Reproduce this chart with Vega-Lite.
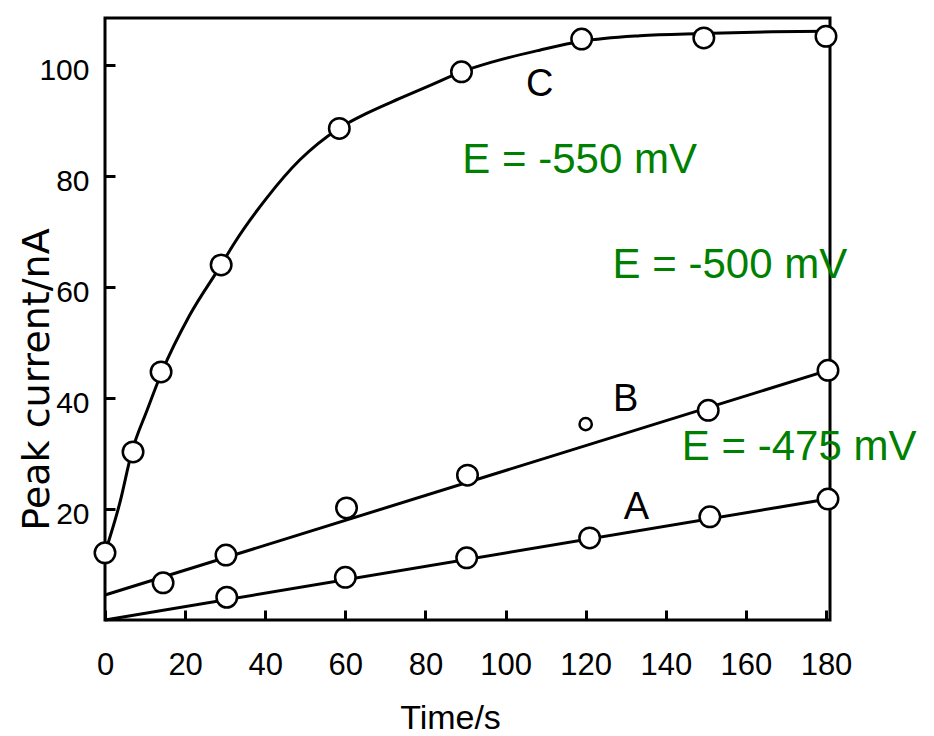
{
  "$schema": "https://vega.github.io/schema/vega-lite/v6.json",
  "autosize": {"type": "none"},
  "width": 725,
  "height": 602,
  "padding": {"left": 105, "top": 18, "right": 104, "bottom": 116},
  "background": "white",
  "config": {
    "view": {"stroke": "black", "strokeWidth": 3},
    "axis": {
      "grid": false,
      "labelColor": "black",
      "titleColor": "black",
      "labelFlush": false,
      "labelOverlap": false,
      "labelFont": "Liberation Sans Narrow, Arial Narrow, Liberation Sans",
      "titleFont": "Liberation Sans Narrow, Arial Narrow, Liberation Sans",
      "titleFontWeight": "normal"
    }
  },
  "datasets": {
    "points": [
      {"series": "C", "t": 0, "current": 12.1, "fit": true},
      {"series": "C", "t": 7, "current": 30.3, "fit": true},
      {"series": "C", "t": 14, "current": 44.7, "fit": true},
      {"series": "C", "t": 29, "current": 64.0, "fit": true},
      {"series": "C", "t": 58.5, "current": 88.6, "fit": true},
      {"series": "C", "t": 89, "current": 98.8, "fit": true},
      {"series": "C", "t": 119, "current": 104.7, "fit": true},
      {"series": "C", "t": 149.5, "current": 104.9, "fit": true},
      {"series": "C", "t": 180, "current": 105.2, "fit": true},
      {"series": "B", "t": 14.5, "current": 6.7, "fit": true},
      {"series": "B", "t": 30.2, "current": 11.7, "fit": true},
      {"series": "B", "t": 60.3, "current": 20.2, "fit": true},
      {"series": "B", "t": 90.5, "current": 26.1, "fit": true},
      {"series": "B", "t": 120, "current": 35.3, "fit": false},
      {"series": "B", "t": 150.6, "current": 37.8, "fit": true},
      {"series": "B", "t": 180.5, "current": 45.0, "fit": true},
      {"series": "A", "t": 30.4, "current": 4.1, "fit": true},
      {"series": "A", "t": 60, "current": 7.7, "fit": true},
      {"series": "A", "t": 90.3, "current": 11.2, "fit": true},
      {"series": "A", "t": 121, "current": 14.8, "fit": true},
      {"series": "A", "t": 151, "current": 18.6, "fit": true},
      {"series": "A", "t": 180.5, "current": 21.8, "fit": true}
    ],
    "curveC": [
      {"t": 0, "current": 12.1},
      {"t": 3.7, "current": 21.1},
      {"t": 6.7, "current": 30.3},
      {"t": 10.5, "current": 37.8},
      {"t": 14.2, "current": 44.7},
      {"t": 21.2, "current": 55.0},
      {"t": 29, "current": 64.0},
      {"t": 32, "current": 67.6},
      {"t": 40.3, "current": 76.0},
      {"t": 48.6, "current": 82.9},
      {"t": 58.4, "current": 88.6},
      {"t": 65.3, "current": 91.3},
      {"t": 73.6, "current": 94.0},
      {"t": 81.9, "current": 96.6},
      {"t": 89, "current": 98.8},
      {"t": 96.8, "current": 100.6},
      {"t": 108.5, "current": 102.7},
      {"t": 119, "current": 104.3},
      {"t": 133.5, "current": 105.3},
      {"t": 149, "current": 105.7},
      {"t": 166.6, "current": 106.0},
      {"t": 180, "current": 106.1}
    ],
    "fits": [
      {"series": "A", "t": 0, "current": 0},
      {"series": "A", "t": 180.5, "current": 21.8},
      {"series": "B", "t": 0, "current": 4.5},
      {"series": "B", "t": 180.5, "current": 45.0}
    ],
    "curveLabels": [
      {"label": "C", "t": 108.5, "current": 96.4},
      {"label": "B", "t": 130, "current": 39.6},
      {"label": "A", "t": 132.7, "current": 20.2}
    ],
    "potentials": [
      {"label": "E = -550 mV", "t": 118.5, "current": 82.9},
      {"label": "E = -500 mV", "t": 156, "current": 64.0},
      {"label": "E = -475 mV", "t": 173.3, "current": 31.2}
    ]
  },
  "encoding": {
    "x": {
      "field": "t",
      "type": "quantitative",
      "scale": {"domain": [0, 181], "nice": false, "zero": false},
      "axis": {
        "title": "Time/s",
        "values": [0, 20, 40, 60, 80, 100, 120, 140, 160, 180],
        "zindex": 1,
        "domain": false,
        "ticks": true,
        "offset": -10,
        "tickSize": 10,
        "tickColor": "#000000",
        "tickOpacity": 1,
        "tickWidth": 3,
        "labelFontSize": 31,
        "labelPadding": 30,
        "titleFontSize": 34,
        "titleX": 345,
        "titleY": 108,
        "titleBaseline": "middle",
        "titleAlign": "center"
      }
    },
    "y": {
      "field": "current",
      "type": "quantitative",
      "scale": {"domain": [0, 108.5], "nice": false, "zero": false},
      "axis": {
        "title": "Peak current/nA",
        "values": [20, 40, 60, 80, 100],
        "zindex": 1,
        "domain": false,
        "ticks": true,
        "offset": -10,
        "tickSize": 10,
        "tickColor": "#000000",
        "tickOpacity": 1,
        "tickWidth": 3,
        "labelFontSize": 30,
        "labelPadding": 16,
        "labelOffset": 5,
        "titleFont": "DejaVu Sans",
        "titleFontSize": 38,
        "titleX": -78,
        "titleY": 361,
        "titleBaseline": "middle",
        "titleAlign": "center",
        "titleAngle": 270
      }
    }
  },
  "layer": [
    {
      "data": {"name": "curveC"},
      "mark": {"type": "line", "interpolate": "monotone", "color": "black", "strokeWidth": 3}
    },
    {
      "data": {"name": "fits"},
      "mark": {"type": "line", "color": "black", "strokeWidth": 3},
      "encoding": {"detail": {"field": "series"}}
    },
    {
      "data": {"name": "points"},
      "mark": {"type": "point", "shape": "circle", "filled": false, "fill": "white", "fillOpacity": 1, "stroke": "black", "strokeWidth": 2.5, "opacity": 1},
      "encoding": {
        "size": {"condition": {"test": "datum.fit === false", "value": 150}, "value": 420}
      }
    },
    {
      "data": {"name": "curveLabels"},
      "mark": {"type": "text", "font": "Liberation Sans Narrow, Arial Narrow, Liberation Sans", "fontSize": 38, "color": "black", "align": "center", "baseline": "middle"},
      "encoding": {"text": {"field": "label"}}
    },
    {
      "data": {"name": "potentials"},
      "mark": {"type": "text", "font": "Liberation Sans, Arial", "fontSize": 42, "color": "#008000", "align": "center", "baseline": "middle"},
      "encoding": {"text": {"field": "label"}}
    }
  ]
}
